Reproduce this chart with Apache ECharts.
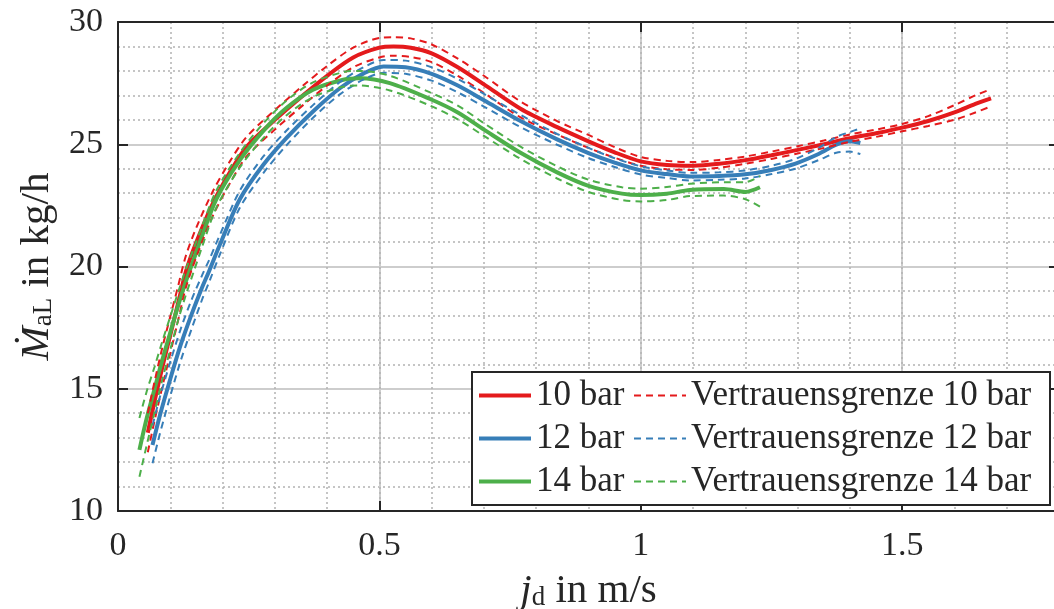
<!DOCTYPE html>
<html>
<head>
<meta charset="utf-8">
<script src="https://cdn.jsdelivr.net/npm/echarts@6/dist/echarts.min.js"></script>
<style>
  html, body { margin: 0; padding: 0; background: #fff; }
  #chart { width: 1054px; height: 609px; }
</style>
</head>
<body>
<div id="chart"></div>
<script>
// 10 bar
const jd10 = [0.057, 0.07, 0.085, 0.10, 0.115, 0.13, 0.15, 0.182, 0.214, 0.246, 0.30, 0.354, 0.40, 0.45, 0.50, 0.527, 0.56, 0.60, 0.65, 0.70, 0.77, 0.84, 0.90, 0.95, 1.00, 1.05, 1.10, 1.15, 1.20, 1.25, 1.30, 1.35, 1.40, 1.45, 1.50, 1.55, 1.60, 1.64, 1.67];
const m10 = [13.2, 14.5, 15.9, 17.2, 18.5, 19.8, 21.0, 22.6, 23.85, 24.9, 26.0, 27.0, 27.8, 28.55, 28.95, 29.0, 28.95, 28.72, 28.15, 27.45, 26.45, 25.7, 25.12, 24.67, 24.3, 24.15, 24.12, 24.2, 24.35, 24.55, 24.77, 25.0, 25.25, 25.45, 25.68, 25.95, 26.3, 26.65, 26.88];
const m10Upper = [14.0, 15.3, 16.7, 17.95, 19.2, 20.45, 21.6, 23.1, 24.3, 25.3, 26.4, 27.4, 28.2, 28.95, 29.35, 29.38, 29.33, 29.08, 28.5, 27.8, 26.75, 25.95, 25.38, 24.88, 24.48, 24.32, 24.27, 24.36, 24.5, 24.7, 24.92, 25.15, 25.4, 25.6, 25.83, 26.15, 26.6, 27.0, 27.25];
const m10Lower = [12.4, 13.7, 15.1, 16.45, 17.8, 19.15, 20.4, 22.1, 23.4, 24.5, 25.6, 26.6, 27.4, 28.15, 28.55, 28.62, 28.57, 28.36, 27.8, 27.1, 26.1, 25.4, 24.85, 24.45, 24.12, 23.98, 23.95, 24.04, 24.2, 24.4, 24.62, 24.85, 25.1, 25.3, 25.53, 25.75, 26.0, 26.3, 26.55];

// 12 bar
const jd12 = [0.066, 0.08, 0.10, 0.12, 0.14, 0.16, 0.175, 0.195, 0.233, 0.278, 0.322, 0.373, 0.425, 0.47, 0.508, 0.55, 0.60, 0.65, 0.70, 0.77, 0.84, 0.90, 0.95, 1.00, 1.05, 1.094, 1.15, 1.20, 1.25, 1.296, 1.34, 1.374, 1.40, 1.42];
const m12 = [12.7, 13.9, 15.4, 16.8, 18.0, 19.1, 19.85, 20.9, 22.75, 24.16, 25.25, 26.34, 27.3, 27.9, 28.18, 28.15, 27.88, 27.4, 26.8, 25.95, 25.2, 24.64, 24.25, 23.93, 23.78, 23.68, 23.7, 23.77, 23.95, 24.21, 24.6, 24.98, 25.12, 25.05];
const m12Upper = [13.5, 14.65, 16.1, 17.45, 18.6, 19.6, 20.3, 21.3, 23.1, 24.5, 25.55, 26.6, 27.55, 28.15, 28.45, 28.42, 28.15, 27.67, 27.06, 26.2, 25.42, 24.85, 24.43, 24.1, 23.93, 23.83, 23.85, 23.93, 24.12, 24.4, 24.85, 25.3, 25.5, 25.65];
const m12Lower = [11.95, 13.15, 14.7, 16.15, 17.4, 18.6, 19.4, 20.5, 22.4, 23.82, 24.95, 26.08, 27.05, 27.65, 27.92, 27.88, 27.6, 27.12, 26.54, 25.7, 24.98, 24.43, 24.07, 23.76, 23.62, 23.52, 23.55, 23.6, 23.78, 24.0, 24.35, 24.65, 24.7, 24.6];

// 14 bar
const jd14 = [0.041, 0.055, 0.07, 0.085, 0.10, 0.115, 0.13, 0.145, 0.16, 0.188, 0.233, 0.278, 0.322, 0.373, 0.431, 0.463, 0.52, 0.597, 0.65, 0.70, 0.77, 0.84, 0.90, 0.964, 1.00, 1.05, 1.094, 1.159, 1.20, 1.228];
const m14 = [12.5, 13.8, 15.0, 16.2, 17.3, 18.4, 19.4, 20.3, 21.2, 22.75, 24.35, 25.55, 26.48, 27.23, 27.64, 27.7, 27.5, 26.85, 26.3, 25.6, 24.65, 23.85, 23.3, 22.98, 22.92, 22.98, 23.13, 23.17, 23.05, 23.24];
const m14Upper = [13.8, 14.9, 15.9, 16.95, 17.95, 18.95, 19.9, 20.75, 21.6, 23.1, 24.65, 25.85, 26.78, 27.53, 27.95, 28.0, 27.8, 27.12, 26.58, 25.86, 24.9, 24.1, 23.55, 23.24, 23.18, 23.25, 23.38, 23.45, 23.45, 23.7];
const m14Lower = [11.4, 12.7, 14.05, 15.4, 16.6, 17.8, 18.85, 19.8, 20.75, 22.4, 24.05, 25.25, 26.18, 26.93, 27.35, 27.4, 27.2, 26.58, 26.02, 25.34, 24.4, 23.6, 23.05, 22.72, 22.66, 22.72, 22.88, 22.9, 22.75, 22.45];

const legendNames = ['10 bar', 'Vertrauensgrenze 10 bar', '12 bar', 'Vertrauensgrenze 12 bar', '14 bar', 'Vertrauensgrenze 14 bar'];

const serif = "'Liberation Serif', 'DejaVu Serif', serif";
const ink = '#262626';

const pts = (xs, ys) => xs.map((x, i) => [x, ys[i]]);

// solid mean line
const meanLine = (name, xs, ys, color) => ({
  type: 'line',
  name,
  data: pts(xs, ys),
  smooth: 0.3,
  symbol: 'none',
  lineStyle: { color, width: 4 },
  itemStyle: { color },
  z: 3,
});

// dashed confidence bound
const boundLine = (name, xs, ys, color) => ({
  type: 'line',
  name,
  data: pts(xs, ys),
  smooth: 0.3,
  symbol: 'none',
  lineStyle: { color, width: 2, type: [7, 5] },
  itemStyle: { color },
  z: 4,
});

const axisLineStyle = { color: ink, width: 2 };

const nameRich = {
  i: { fontFamily: serif, fontStyle: 'italic', fontSize: 41, lineHeight: 40, color: ink },
  sub: { fontFamily: serif, fontSize: 27, lineHeight: 16, verticalAlign: 'bottom', color: ink },
  t: { fontFamily: serif, fontSize: 41, lineHeight: 40, color: ink },
};

const option = {
  animation: false,
  backgroundColor: '#fff',
  grid: { left: 118, top: 22, width: 941, height: 489, outerBoundsMode: 'none' },
  legend: {
    left: 472,
    top: 372,
    width: 580,
    padding: [6, 10, 6, 5],
    itemGap: 8,
    itemWidth: 52,
    itemHeight: 14,
    borderColor: ink,
    borderWidth: 2,
    backgroundColor: '#fff',
    data: legendNames,
    itemStyle: { opacity: 0 },
    lineStyle: { width: 'inherit' },
    formatter: (name) => (name.startsWith('V') ? `{l|${name}}` : `{s|${name}}`),
    textStyle: {
      fontFamily: serif,
      fontSize: 35,
      color: ink,
      rich: {
        s: { width: 89, fontFamily: serif, fontSize: 35, lineHeight: 33, color: ink },
        l: { width: 349, fontFamily: serif, fontSize: 35, lineHeight: 33, color: ink },
      },
    },
  },
  xAxis: [{
    type: 'value',
    min: 0,
    max: 1.8,
    interval: 0.5,
    position: 'bottom',
    name: '{i|j}{sub|d}{t| in m/s}',
    nameLocation: 'middle',
    nameGap: 60,
    nameTextStyle: { rich: nameRich },
    axisLine: { onZero: false, lineStyle: axisLineStyle },
    axisTick: { inside: true, length: 10, lineStyle: axisLineStyle },
    axisLabel: { fontFamily: serif, fontSize: 34, color: ink, margin: 18, showMaxLabel: false },
    splitLine: { lineStyle: { color: '#cdcdcd', width: 2 } },
  }, {
    type: 'value',
    min: 0,
    max: 1.8,
    interval: 0.5,
    position: 'top',
    axisLine: { onZero: false, lineStyle: axisLineStyle },
    axisTick: { inside: true, length: 10, lineStyle: axisLineStyle },
    axisLabel: { show: false },
    splitLine: { show: false },
  }, {
    type: 'value',
    min: 0,
    max: 1.8,
    interval: 0.1,
    position: 'bottom',
    axisLine: { show: false },
    axisTick: { show: false },
    axisLabel: { show: false },
    splitLine: { lineStyle: { color: '#b3b3b3', width: 1.5, type: [2, 3] } },
  }],
  yAxis: [{
    type: 'value',
    min: 10,
    max: 30,
    interval: 5,
    position: 'left',
    name: '{i|M\u0307}{sub|aL}{t| in kg/h}',
    nameLocation: 'middle',
    nameGap: 60,
    nameTextStyle: { rich: nameRich },
    axisLine: { onZero: false, lineStyle: axisLineStyle },
    axisTick: { inside: true, length: 10, lineStyle: axisLineStyle },
    axisLabel: { fontFamily: serif, fontSize: 34, color: ink, margin: 15 },
    splitLine: { lineStyle: { color: '#cdcdcd', width: 2 } },
    minorTick: { show: false, splitNumber: 5 },
    minorSplitLine: { show: true, lineStyle: { color: '#b3b3b3', width: 1.5, type: [2, 3] } },
  }, {
    type: 'value',
    min: 10,
    max: 30,
    interval: 5,
    position: 'right',
    axisLine: { onZero: false, lineStyle: axisLineStyle },
    axisTick: { inside: true, length: 10, lineStyle: axisLineStyle },
    axisLabel: { show: false },
    splitLine: { show: false },
  }],
  series: [
    meanLine('10 bar', jd10, m10, '#e41a1c'),
    boundLine('Vertrauensgrenze 10 bar', jd10, m10Upper, '#e41a1c'),
    boundLine('Vertrauensgrenze 10 bar', jd10, m10Lower, '#e41a1c'),
    meanLine('12 bar', jd12, m12, '#377eb8'),
    boundLine('Vertrauensgrenze 12 bar', jd12, m12Upper, '#377eb8'),
    boundLine('Vertrauensgrenze 12 bar', jd12, m12Lower, '#377eb8'),
    meanLine('14 bar', jd14, m14, '#4daf4a'),
    boundLine('Vertrauensgrenze 14 bar', jd14, m14Upper, '#4daf4a'),
    boundLine('Vertrauensgrenze 14 bar', jd14, m14Lower, '#4daf4a'),
  ],
};

const chart = echarts.init(document.getElementById('chart'));
chart.setOption(option);
</script>
</body>
</html>
